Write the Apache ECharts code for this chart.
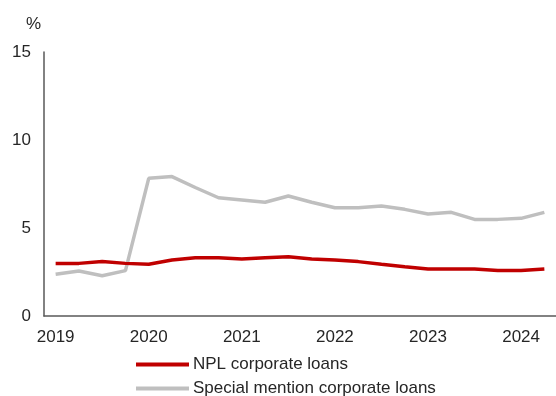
<!DOCTYPE html>
<html>
<head>
<meta charset="utf-8">
<script src="https://cdn.jsdelivr.net/npm/echarts@6/dist/echarts.min.js"></script>
<style>
  html, body { margin: 0; padding: 0; background: #fff; }
  #chart { width: 556px; height: 396px; }
</style>
</head>
<body>
<div id="chart"></div>
<script>
// Quarterly observations, 2019 Q1 – 2024 Q2
const quarters = [
  '2019','2019Q2','2019Q3','2019Q4',
  '2020','2020Q2','2020Q3','2020Q4',
  '2021','2021Q2','2021Q3','2021Q4',
  '2022','2022Q2','2022Q3','2022Q4',
  '2023','2023Q2','2023Q3','2023Q4',
  '2024','2024Q2'
];
const nplCorporate = [
  2.99, 2.99, 3.09, 2.99,
  2.94, 3.18, 3.31, 3.31,
  3.24, 3.31, 3.37, 3.24,
  3.18, 3.09, 2.94, 2.80,
  2.67, 2.67, 2.67, 2.58,
  2.58, 2.67
];
const specialMention = [
  2.37, 2.56, 2.29, 2.58,
  7.82, 7.92, 7.30, 6.72,
  6.59, 6.46, 6.82, 6.46,
  6.15, 6.15, 6.25, 6.06,
  5.80, 5.89, 5.49, 5.49,
  5.55, 5.89
];
const seriesNames = ['NPL corporate loans', 'Special mention corporate loans'];
const seriesColors = ['#C00000', '#BFBFBF'];
const yTicks = [0, 5, 10, 15];

const font = 'Liberation Sans, Arial, sans-serif';
const textColor = '#262626';

// One legend row per series, stacked under the axis
const legendRow = (name, top) => ({
  data: [name],
  left: 136, top: top,
  padding: 0,
  icon: 'rect',
  itemWidth: 53, itemHeight: 4,
  itemGap: 0,
  textStyle: { fontFamily: font, fontSize: 17, color: textColor, padding: [0, 0, 0, -1] }
});

const chart = echarts.init(document.getElementById('chart'), null, { renderer: 'canvas' });
chart.setOption({
  animation: false,
  backgroundColor: '#ffffff',
  textStyle: { fontFamily: font },
  title: {
    text: '%',
    left: 26, top: 16, padding: 0,
    textStyle: { fontFamily: font, fontSize: 17, fontWeight: 'normal', color: textColor }
  },
  grid: { left: 44, right: 0, top: 52, bottom: 80, containLabel: false },
  legend: [legendRow(seriesNames[0], 356), legendRow(seriesNames[1], 380)],
  xAxis: {
    type: 'category',
    data: quarters,
    boundaryGap: true,
    axisLine: { lineStyle: { color: '#595959', width: 1.5 } },
    axisTick: { show: false },
    axisLabel: {
      interval: 3,
      margin: 13,
      fontFamily: font, fontSize: 17, color: textColor,
      formatter: v => v.slice(0, 4)
    }
  },
  yAxis: {
    type: 'value',
    min: yTicks[0], max: yTicks[yTicks.length - 1], interval: 5,
    axisLine: { show: true, lineStyle: { color: '#595959', width: 1.5 } },
    axisTick: { show: false },
    splitLine: { show: false },
    axisLabel: { margin: 13, fontFamily: font, fontSize: 17, color: textColor }
  },
  series: [
    {
      name: seriesNames[0], type: 'line', data: nplCorporate,
      symbol: 'none', z: 3,
      lineStyle: { color: seriesColors[0], width: 3.5 },
      itemStyle: { color: seriesColors[0] }
    },
    {
      name: seriesNames[1], type: 'line', data: specialMention,
      symbol: 'none', z: 2,
      lineStyle: { color: seriesColors[1], width: 3.5 },
      itemStyle: { color: seriesColors[1] }
    }
  ]
});
</script>
</body>
</html>
